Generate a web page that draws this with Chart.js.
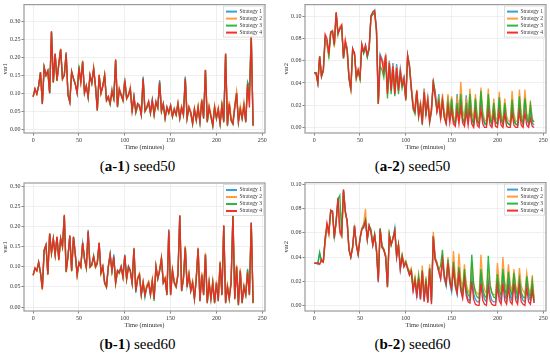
<!DOCTYPE html>
<html>
<head>
<meta charset="utf-8">
<script src="https://cdn.jsdelivr.net/npm/chart.js@4.4.0/dist/chart.umd.min.js"></script>
<style>
body { margin: 0; background: #fff; width: 550px; height: 356px; position: relative; overflow: hidden; }
canvas { position: absolute; }
.cap { position: absolute; width: 275px; text-align: center; font-family: "Liberation Serif", "DejaVu Serif", serif; font-size: 15px; line-height: 15px; color: #000; white-space: nowrap; }
</style>
</head>
<body>
<canvas id="c1" width="275" height="155" style="left:0;top:0"></canvas>
<canvas id="c2" width="275" height="155" style="left:275px;top:0"></canvas>
<canvas id="c3" width="275" height="155" style="left:0;top:178px"></canvas>
<canvas id="c4" width="275" height="155" style="left:275px;top:178px"></canvas>
<div class="cap" style="left:0;top:159px">(<b>a-1</b>) seed50</div>
<div class="cap" style="left:275px;top:159px">(<b>a-2</b>) seed50</div>
<div class="cap" style="left:0;top:337px">(<b>b-1</b>) seed60</div>
<div class="cap" style="left:275px;top:337px">(<b>b-2</b>) seed60</div>
<script>
// Zeitachse (Minuten)
const minutes = [0,2,4,6,8,10,12,14,16,18,20,22,24,26,28,30,32,34,36,38,
  40,42,44,46,48,50,52,54,56,58,60,62,64,66,68,70,72,74,76,78,
  80,82,84,86,88,90,92,94,96,98,100,102,104,106,108,110,112,114,116,118,
  120,122,124,126,128,130,132,134,136,138,140,142,144,146,148,150,152,154,156,158,
  160,162,164,166,168,170,172,174,176,178,180,182,184,186,188,190,192,194,196,198,
  200,202,204,206,208,210,212,214,216,218,220,222,224,226,228,230,232,234,236,238,240];

const strategies = ['Strategy 1', 'Strategy 2', 'Strategy 3', 'Strategy 4'];
const colors = ['rgba(31,150,214,0.9)', 'rgba(255,146,38,0.9)', 'rgba(22,176,44,0.9)', 'rgba(242,38,38,0.96)'];

const xTicks = [0, 50, 100, 150, 200, 250];
const yTicksVar1 = [0, 0.05, 0.10, 0.15, 0.20, 0.25, 0.30];
const yTicksVar2 = [0, 0.02, 0.04, 0.06, 0.08, 0.10];

// (a-1) var1, seed50
const a1s1 = [0.090,0.112,0.098,0.121,0.158,0.071,0.173,0.150,0.163,0.100,
  0.270,0.131,0.208,0.136,0.181,0.220,0.141,0.151,0.208,0.096,
  0.076,0.158,0.141,0.127,0.102,0.168,0.132,0.186,0.103,0.122,
  0.090,0.148,0.130,0.166,0.121,0.055,0.148,0.103,0.121,0.148,
  0.085,0.092,0.073,0.112,0.088,0.190,0.066,0.112,0.098,0.083,
  0.142,0.088,0.097,0.114,0.054,0.092,0.051,0.072,0.066,0.042,
  0.146,0.054,0.062,0.078,0.048,0.082,0.043,0.078,0.062,0.136,
  0.053,0.072,0.033,0.063,0.048,0.067,0.038,0.058,0.042,0.072,
  0.033,0.062,0.043,0.146,0.034,0.062,0.047,0.018,0.057,0.028,
  0.062,0.022,0.082,0.032,0.163,0.022,0.062,0.037,0.012,0.062,
  0.032,0.057,0.017,0.067,0.022,0.206,0.012,0.072,0.027,0.017,
  0.062,0.098,0.022,0.057,0.032,0.068,0.022,0.130,0.118,0.255,
  0.012];
const a1s2 = [0.089,0.110,0.097,0.119,0.156,0.072,0.170,0.148,0.160,0.102,
  0.268,0.128,0.207,0.133,0.184,0.224,0.138,0.152,0.206,0.094,
  0.077,0.161,0.142,0.123,0.104,0.167,0.128,0.191,0.104,0.118,
  0.094,0.151,0.126,0.172,0.118,0.056,0.152,0.098,0.118,0.152,
  0.084,0.091,0.074,0.108,0.087,0.191,0.064,0.114,0.093,0.082,
  0.133,0.087,0.093,0.118,0.053,0.088,0.052,0.068,0.067,0.041,
  0.138,0.052,0.058,0.077,0.046,0.078,0.042,0.076,0.058,0.128,
  0.052,0.068,0.032,0.062,0.047,0.066,0.037,0.057,0.041,0.074,
  0.034,0.064,0.044,0.138,0.033,0.063,0.048,0.018,0.058,0.030,
  0.066,0.024,0.085,0.034,0.163,0.024,0.066,0.040,0.014,0.066,
  0.035,0.060,0.019,0.075,0.024,0.207,0.014,0.078,0.030,0.020,
  0.070,0.105,0.025,0.065,0.036,0.075,0.025,0.122,0.105,0.258,
  0.008];
const a1s3 = [0.090,0.111,0.098,0.120,0.157,0.069,0.171,0.149,0.161,0.099,
  0.271,0.129,0.209,0.134,0.181,0.221,0.139,0.149,0.214,0.094,
  0.074,0.159,0.139,0.124,0.099,0.176,0.129,0.187,0.099,0.119,
  0.087,0.149,0.127,0.167,0.119,0.050,0.149,0.099,0.119,0.149,
  0.078,0.085,0.068,0.103,0.083,0.192,0.060,0.108,0.093,0.078,
  0.134,0.083,0.093,0.110,0.046,0.088,0.044,0.062,0.063,0.038,
  0.141,0.048,0.058,0.073,0.043,0.078,0.038,0.073,0.058,0.129,
  0.048,0.068,0.028,0.058,0.043,0.063,0.033,0.053,0.038,0.068,
  0.028,0.058,0.038,0.141,0.028,0.058,0.043,0.013,0.053,0.023,
  0.058,0.018,0.078,0.028,0.164,0.018,0.058,0.033,0.008,0.058,
  0.028,0.053,0.013,0.063,0.018,0.209,0.008,0.068,0.023,0.013,
  0.058,0.099,0.018,0.053,0.028,0.063,0.018,0.124,0.095,0.259,
  0.009];
const a1s4 = [0.090,0.112,0.098,0.120,0.158,0.070,0.172,0.150,0.162,0.100,
  0.272,0.130,0.210,0.135,0.182,0.222,0.140,0.150,0.210,0.095,
  0.075,0.160,0.140,0.125,0.100,0.170,0.130,0.188,0.100,0.120,
  0.088,0.150,0.128,0.168,0.120,0.052,0.150,0.100,0.120,0.150,
  0.080,0.090,0.070,0.105,0.085,0.194,0.062,0.110,0.095,0.080,
  0.135,0.085,0.095,0.112,0.050,0.090,0.048,0.070,0.065,0.040,
  0.140,0.050,0.060,0.075,0.045,0.080,0.040,0.075,0.060,0.130,
  0.050,0.070,0.030,0.060,0.045,0.065,0.035,0.055,0.040,0.070,
  0.030,0.060,0.040,0.140,0.030,0.060,0.045,0.015,0.055,0.025,
  0.060,0.020,0.080,0.030,0.165,0.020,0.060,0.035,0.010,0.060,
  0.030,0.055,0.015,0.065,0.020,0.210,0.010,0.070,0.025,0.015,
  0.060,0.100,0.020,0.055,0.030,0.065,0.020,0.125,0.060,0.260,
  0.010];

// (a-2) var2, seed50
const a2s1 = [0.049,0.049,0.040,0.064,0.046,0.052,0.080,0.074,0.066,0.085,
  0.086,0.074,0.103,0.085,0.088,0.091,0.063,0.077,0.072,0.046,
  0.033,0.071,0.066,0.046,0.051,0.045,0.075,0.067,0.074,0.064,
  0.072,0.101,0.104,0.106,0.089,0.022,0.066,0.062,0.056,0.064,
  0.034,0.060,0.040,0.058,0.035,0.057,0.038,0.053,0.041,0.046,
  0.026,0.065,0.057,0.036,0.020,0.016,0.033,0.012,0.022,0.006,
  0.035,0.014,0.027,0.007,0.017,0.040,0.033,0.016,0.030,0.010,
  0.026,0.011,0.005,0.028,0.009,0.022,0.007,0.004,0.030,0.008,
  0.026,0.008,0.004,0.029,0.007,0.027,0.008,0.003,0.024,0.006,
  0.003,0.028,0.008,0.003,0.002,0.025,0.007,0.003,0.020,0.005,
  0.003,0.025,0.007,0.003,0.018,0.005,0.003,0.002,0.020,0.006,
  0.003,0.002,0.022,0.007,0.003,0.028,0.008,0.003,0.015,0.004,
  0.002];
const a2s2 = [0.049,0.049,0.041,0.063,0.046,0.050,0.078,0.076,0.062,0.084,
  0.086,0.072,0.102,0.083,0.091,0.093,0.062,0.079,0.068,0.044,
  0.034,0.069,0.068,0.044,0.052,0.044,0.074,0.070,0.073,0.066,
  0.071,0.099,0.102,0.104,0.087,0.022,0.063,0.061,0.054,0.066,
  0.032,0.059,0.038,0.056,0.032,0.055,0.036,0.051,0.040,0.045,
  0.027,0.064,0.056,0.038,0.022,0.018,0.034,0.014,0.022,0.008,
  0.034,0.016,0.026,0.009,0.018,0.040,0.030,0.018,0.026,0.012,
  0.030,0.014,0.008,0.030,0.012,0.028,0.010,0.006,0.028,0.010,
  0.041,0.016,0.008,0.027,0.010,0.035,0.014,0.007,0.030,0.010,
  0.006,0.036,0.014,0.007,0.005,0.035,0.012,0.006,0.026,0.009,
  0.006,0.032,0.012,0.006,0.026,0.010,0.006,0.005,0.033,0.012,
  0.006,0.005,0.034,0.012,0.006,0.034,0.012,0.007,0.024,0.008,
  0.005];
const a2s3 = [0.049,0.049,0.040,0.064,0.046,0.051,0.080,0.078,0.065,0.085,
  0.087,0.074,0.103,0.084,0.089,0.090,0.062,0.074,0.070,0.044,
  0.035,0.070,0.066,0.044,0.050,0.043,0.073,0.067,0.072,0.063,
  0.070,0.100,0.102,0.103,0.086,0.021,0.055,0.052,0.045,0.060,
  0.026,0.055,0.030,0.052,0.028,0.050,0.030,0.048,0.035,0.042,
  0.024,0.064,0.054,0.034,0.016,0.012,0.032,0.009,0.019,0.002,
  0.030,0.010,0.024,0.004,0.014,0.043,0.030,0.015,0.024,0.007,
  0.025,0.009,0.004,0.022,0.007,0.026,0.006,0.003,0.022,0.006,
  0.030,0.008,0.004,0.022,0.006,0.030,0.008,0.003,0.026,0.006,
  0.003,0.033,0.010,0.004,0.003,0.030,0.008,0.003,0.022,0.005,
  0.003,0.027,0.008,0.003,0.022,0.006,0.003,0.002,0.025,0.007,
  0.003,0.002,0.028,0.008,0.003,0.026,0.009,0.004,0.020,0.006,
  0.005];
const a2s4 = [0.049,0.049,0.040,0.064,0.046,0.052,0.084,0.080,0.066,0.086,
  0.087,0.075,0.104,0.085,0.089,0.092,0.063,0.078,0.070,0.045,
  0.035,0.071,0.067,0.045,0.052,0.045,0.075,0.068,0.074,0.065,
  0.072,0.100,0.104,0.105,0.088,0.021,0.064,0.060,0.050,0.065,
  0.030,0.058,0.033,0.055,0.030,0.054,0.033,0.050,0.038,0.044,
  0.025,0.065,0.055,0.035,0.018,0.014,0.033,0.010,0.020,0.003,
  0.032,0.012,0.025,0.005,0.015,0.040,0.028,0.014,0.022,0.008,
  0.024,0.009,0.003,0.018,0.004,0.016,0.003,0.001,0.015,0.003,
  0.018,0.004,0.001,0.014,0.002,0.016,0.003,0.000,0.014,0.002,
  0.000,0.016,0.003,0.000,0.000,0.015,0.002,0.000,0.012,0.001,
  0.000,0.014,0.002,0.000,0.012,0.001,0.000,0.000,0.013,0.002,
  0.000,0.000,0.014,0.002,0.000,0.013,0.002,0.000,0.008,0.001,
  0.000];

// (b-1) var1, seed60
const b1s1 = [0.080,0.096,0.091,0.112,0.084,0.047,0.140,0.153,0.082,0.181,
  0.137,0.168,0.132,0.173,0.119,0.169,0.152,0.226,0.090,0.128,
  0.176,0.092,0.173,0.132,0.082,0.112,0.102,0.158,0.122,0.100,
  0.192,0.102,0.107,0.124,0.102,0.112,0.158,0.087,0.102,0.063,
  0.053,0.102,0.133,0.092,0.131,0.062,0.092,0.087,0.102,0.078,
  0.130,0.072,0.102,0.092,0.062,0.143,0.035,0.072,0.082,0.033,
  0.062,0.025,0.052,0.062,0.033,0.062,0.024,0.102,0.072,0.092,
  0.122,0.062,0.072,0.033,0.193,0.033,0.092,0.062,0.053,0.082,
  0.226,0.042,0.072,0.150,0.053,0.082,0.042,0.062,0.023,0.072,
  0.146,0.018,0.082,0.033,0.132,0.013,0.062,0.023,0.062,0.013,
  0.062,0.018,0.112,0.033,0.201,0.013,0.052,0.023,0.062,0.226,
  0.023,0.102,0.008,0.092,0.013,0.052,0.033,0.095,0.033,0.208,
  0.012];
const b1s2 = [0.078,0.095,0.089,0.111,0.086,0.042,0.138,0.152,0.083,0.180,
  0.133,0.168,0.128,0.172,0.115,0.168,0.148,0.225,0.086,0.124,
  0.175,0.088,0.172,0.128,0.078,0.108,0.098,0.158,0.118,0.096,
  0.185,0.098,0.103,0.123,0.098,0.106,0.158,0.082,0.098,0.058,
  0.048,0.098,0.128,0.088,0.123,0.058,0.088,0.083,0.098,0.073,
  0.126,0.068,0.098,0.088,0.058,0.143,0.042,0.074,0.084,0.034,
  0.064,0.034,0.055,0.064,0.034,0.070,0.024,0.104,0.074,0.094,
  0.124,0.064,0.074,0.034,0.188,0.034,0.094,0.064,0.054,0.084,
  0.226,0.044,0.076,0.152,0.056,0.086,0.046,0.066,0.026,0.076,
  0.148,0.022,0.086,0.036,0.135,0.016,0.066,0.026,0.066,0.016,
  0.066,0.021,0.115,0.036,0.201,0.016,0.056,0.026,0.066,0.226,
  0.026,0.105,0.011,0.096,0.016,0.056,0.036,0.090,0.034,0.208,
  0.014];
const b1s3 = [0.079,0.096,0.090,0.110,0.085,0.046,0.141,0.154,0.081,0.182,
  0.134,0.169,0.129,0.174,0.120,0.170,0.149,0.227,0.087,0.125,
  0.177,0.089,0.174,0.129,0.079,0.109,0.099,0.159,0.119,0.097,
  0.186,0.099,0.104,0.128,0.099,0.109,0.159,0.084,0.099,0.059,
  0.049,0.099,0.129,0.089,0.124,0.059,0.089,0.084,0.099,0.074,
  0.127,0.069,0.099,0.089,0.059,0.147,0.039,0.069,0.079,0.029,
  0.059,0.029,0.049,0.059,0.029,0.064,0.015,0.099,0.069,0.089,
  0.119,0.059,0.069,0.029,0.185,0.029,0.089,0.059,0.049,0.079,
  0.227,0.039,0.069,0.147,0.049,0.079,0.039,0.059,0.019,0.069,
  0.144,0.014,0.079,0.029,0.129,0.009,0.059,0.019,0.059,0.009,
  0.059,0.014,0.109,0.029,0.202,0.009,0.049,0.019,0.059,0.227,
  0.019,0.099,0.004,0.089,0.009,0.049,0.029,0.092,0.029,0.209,
  0.009];
const b1s4 = [0.079,0.097,0.090,0.110,0.085,0.045,0.142,0.155,0.080,0.183,
  0.135,0.170,0.130,0.175,0.117,0.171,0.150,0.229,0.088,0.126,
  0.178,0.090,0.175,0.130,0.080,0.110,0.100,0.160,0.120,0.098,
  0.188,0.100,0.105,0.125,0.100,0.110,0.160,0.085,0.100,0.060,
  0.050,0.100,0.130,0.090,0.125,0.060,0.090,0.085,0.100,0.075,
  0.128,0.070,0.100,0.090,0.060,0.145,0.040,0.070,0.080,0.030,
  0.060,0.030,0.050,0.060,0.030,0.065,0.020,0.100,0.070,0.090,
  0.120,0.060,0.070,0.030,0.190,0.030,0.090,0.060,0.050,0.080,
  0.228,0.040,0.070,0.148,0.050,0.080,0.040,0.060,0.020,0.070,
  0.145,0.015,0.080,0.030,0.130,0.010,0.060,0.020,0.060,0.010,
  0.060,0.015,0.110,0.030,0.203,0.010,0.050,0.020,0.060,0.228,
  0.020,0.100,0.005,0.090,0.010,0.050,0.030,0.085,0.030,0.210,
  0.010];

// (b-2) var2, seed60
const b2s1 = [0.035,0.035,0.034,0.043,0.037,0.036,0.054,0.062,0.060,0.077,
  0.078,0.055,0.070,0.088,0.060,0.057,0.095,0.078,0.069,0.047,
  0.040,0.049,0.066,0.050,0.043,0.055,0.063,0.064,0.070,0.054,
  0.066,0.061,0.050,0.058,0.045,0.019,0.063,0.048,0.046,0.040,
  0.016,0.058,0.050,0.055,0.064,0.040,0.050,0.030,0.041,0.032,
  0.036,0.030,0.025,0.029,0.013,0.021,0.006,0.023,0.005,0.029,
  0.004,0.021,0.003,0.031,0.002,0.058,0.038,0.034,0.028,0.022,
  0.036,0.022,0.016,0.034,0.018,0.011,0.032,0.016,0.009,0.030,
  0.014,0.007,0.026,0.011,0.005,0.004,0.028,0.010,0.005,0.003,
  0.003,0.026,0.010,0.005,0.003,0.024,0.009,0.004,0.003,0.003,
  0.022,0.008,0.004,0.026,0.010,0.004,0.022,0.008,0.004,0.024,
  0.009,0.004,0.020,0.008,0.004,0.003,0.020,0.008,0.004,0.016,
  0.002];
const b2s2 = [0.035,0.035,0.035,0.034,0.037,0.036,0.052,0.065,0.058,0.076,
  0.077,0.058,0.068,0.086,0.060,0.057,0.094,0.076,0.069,0.047,
  0.041,0.048,0.064,0.051,0.043,0.056,0.064,0.068,0.080,0.056,
  0.065,0.062,0.051,0.058,0.047,0.022,0.062,0.049,0.047,0.042,
  0.018,0.057,0.051,0.056,0.061,0.042,0.051,0.033,0.042,0.035,
  0.037,0.032,0.028,0.031,0.016,0.024,0.013,0.026,0.010,0.033,
  0.008,0.024,0.007,0.034,0.006,0.061,0.040,0.036,0.030,0.024,
  0.036,0.024,0.018,0.040,0.024,0.016,0.045,0.024,0.015,0.043,
  0.022,0.014,0.034,0.018,0.012,0.010,0.036,0.018,0.012,0.010,
  0.009,0.042,0.020,0.013,0.010,0.030,0.016,0.011,0.009,0.009,
  0.035,0.018,0.012,0.040,0.019,0.013,0.034,0.017,0.012,0.030,
  0.016,0.011,0.031,0.016,0.012,0.010,0.027,0.014,0.010,0.025,
  0.006];
const b2s3 = [0.035,0.035,0.035,0.044,0.036,0.036,0.056,0.067,0.061,0.078,
  0.077,0.057,0.069,0.088,0.091,0.058,0.095,0.077,0.070,0.046,
  0.040,0.048,0.065,0.050,0.042,0.055,0.063,0.066,0.071,0.055,
  0.066,0.063,0.050,0.059,0.046,0.022,0.064,0.050,0.046,0.041,
  0.015,0.059,0.050,0.056,0.062,0.041,0.050,0.031,0.041,0.033,
  0.036,0.031,0.027,0.029,0.014,0.022,0.011,0.024,0.007,0.029,
  0.006,0.022,0.004,0.031,0.004,0.057,0.039,0.035,0.029,0.033,
  0.046,0.026,0.018,0.038,0.022,0.014,0.036,0.019,0.012,0.032,
  0.016,0.010,0.030,0.014,0.009,0.007,0.042,0.018,0.010,0.007,
  0.006,0.030,0.014,0.008,0.006,0.041,0.017,0.010,0.007,0.006,
  0.026,0.012,0.008,0.030,0.014,0.008,0.028,0.013,0.008,0.027,
  0.013,0.008,0.022,0.011,0.007,0.006,0.024,0.011,0.007,0.020,
  0.004];
const b2s4 = [0.035,0.035,0.035,0.034,0.038,0.036,0.055,0.068,0.060,0.079,
  0.078,0.056,0.070,0.089,0.062,0.058,0.096,0.078,0.070,0.046,
  0.040,0.048,0.066,0.050,0.042,0.055,0.063,0.065,0.070,0.055,
  0.066,0.060,0.050,0.058,0.045,0.020,0.063,0.048,0.046,0.040,
  0.015,0.058,0.050,0.055,0.062,0.040,0.050,0.030,0.040,0.032,
  0.035,0.030,0.025,0.028,0.012,0.020,0.008,0.022,0.005,0.028,
  0.003,0.020,0.002,0.030,0.001,0.057,0.038,0.034,0.028,0.022,
  0.038,0.024,0.018,0.035,0.020,0.014,0.030,0.016,0.010,0.026,
  0.012,0.006,0.022,0.008,0.003,0.002,0.020,0.005,0.001,0.000,
  0.000,0.018,0.004,0.001,0.000,0.016,0.004,0.001,0.000,0.000,
  0.016,0.004,0.001,0.018,0.004,0.001,0.015,0.003,0.001,0.018,
  0.004,0.001,0.016,0.003,0.001,0.000,0.014,0.003,0.001,0.012,
  0.002];

const serif = '"Liberation Serif", "DejaVu Serif", serif';

// Rahmen + Legende im Plotbereich
const frameAndLegend = {
  id: 'frameAndLegend',
  afterDatasetsDraw(chart) {
    const {ctx, chartArea: a} = chart;
    ctx.save();
    ctx.strokeStyle = '#9a9a9a';
    ctx.lineWidth = 1.2;
    ctx.strokeRect(a.left, a.top, a.right - a.left, a.bottom - a.top);

    const w = 40, h = 31;
    const x0 = a.right - w - 1.5, y0 = a.top + 1.5;
    ctx.fillStyle = 'rgba(255,255,255,0.85)';
    ctx.fillRect(x0, y0, w, h);
    ctx.strokeStyle = '#d6d6d6';
    ctx.lineWidth = 0.8;
    ctx.strokeRect(x0, y0, w, h);
    ctx.font = '5.5px ' + serif;
    ctx.textBaseline = 'middle';
    chart.data.datasets.forEach((ds, i) => {
      const y = y0 + 5.5 + i * 7;
      ctx.strokeStyle = ds.borderColor;
      ctx.lineWidth = 2;
      ctx.beginPath();
      ctx.moveTo(x0 + 2.5, y);
      ctx.lineTo(x0 + 13.5, y);
      ctx.stroke();
      ctx.fillStyle = '#333';
      ctx.fillText(ds.label, x0 + 16, y);
    });
    ctx.restore();
  }
};

function makeChart(id, series, yTicks, yMin, yMax, yLabel, yWidth, padTop, titlePad, padRight) {
  const ctx = document.getElementById(id).getContext('2d');
  return new Chart(ctx, {
    type: 'line',
    data: {
      datasets: series.map((vals, i) => ({
        label: strategies[i],
        data: vals.map((v, k) => ({x: minutes[k], y: v})),
        borderColor: colors[i],
        borderWidth: 1.35,
        pointRadius: 0,
        tension: 0,
        fill: false,
        order: series.length - i
      }))
    },
    options: {
      responsive: false,
      animation: false,
      events: [],
      layout: {padding: {left: 0, right: padRight, top: padTop, bottom: 0}},
      plugins: {legend: {display: false}, tooltip: {enabled: false}},
      scales: {
        x: {
          type: 'linear',
          min: -10,
          max: 253,
          afterBuildTicks: s => { s.ticks = xTicks.map(v => ({value: v})); },
          afterFit: s => { s.height = 22; },
          grid: {color: '#ebebeb', lineWidth: 0.8, tickLength: 2.5, tickColor: '#666'},
          border: {display: false},
          ticks: {font: {family: serif, size: 6}, color: '#333', padding: 1, maxRotation: 0},
          title: {display: true, text: 'Time (minutes)', font: {family: serif, size: 6.5}, color: '#333', padding: {top: 0, bottom: 4}}
        },
        y: {
          min: yMin,
          max: yMax,
          afterBuildTicks: s => { s.ticks = yTicks.map(v => ({value: v})); },
          afterFit: s => { s.width = yWidth; },
          grid: {color: '#ebebeb', lineWidth: 0.8, tickLength: 2.5, tickColor: '#666'},
          border: {display: false},
          ticks: {font: {family: serif, size: 6}, color: '#333', padding: 1, callback: v => v.toFixed(2)},
          title: {display: true, text: yLabel, font: {family: serif, size: 6.5}, color: '#333', padding: {top: titlePad, bottom: 0}}
        }
      }
    },
    plugins: [frameAndLegend]
  });
}

makeChart('c1', [a1s1, a1s2, a1s3, a1s4], yTicksVar1, -0.011, 0.346, 'var1', 24, 4, 1, 10);
makeChart('c2', [a2s1, a2s2, a2s3, a2s4], yTicksVar2, -0.0051, 0.1107, 'var2', 30, 3.5, 7, 4);
makeChart('c3', [b1s1, b1s2, b1s3, b1s4], yTicksVar1, -0.0099, 0.308, 'var1', 24, 5, 1, 10);
makeChart('c4', [b2s1, b2s2, b2s3, b2s4], yTicksVar2, -0.0046, 0.1016, 'var2', 30, 4.5, 7, 4);
</script>
</body>
</html>
